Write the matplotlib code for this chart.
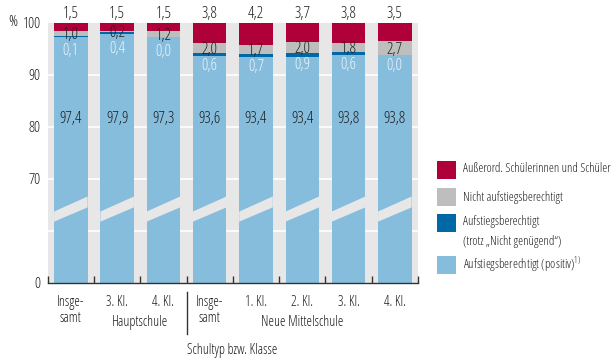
import numpy as np
import matplotlib
matplotlib.use("Agg")
import matplotlib.pyplot as plt
from matplotlib.patches import Polygon, Rectangle

# ---------------- data ----------------
categories = ["Insge-\nsamt", "3. Kl.", "4. Kl.", "Insge-\nsamt", "1. Kl.", "2. Kl.", "3. Kl.", "4. Kl."]
positiv = np.array([97.4, 97.9, 97.3, 93.6, 93.4, 93.4, 93.8, 93.8])
trotz = np.array([0.1, 0.4, 0.0, 0.6, 0.7, 0.9, 0.6, 0.0])
nicht = np.array([1.0, 0.2, 1.2, 2.0, 1.7, 2.0, 1.8, 2.7])
ausserord = np.array([1.5, 1.5, 1.5, 3.8, 4.2, 3.7, 3.8, 3.5])
groups = ["Hauptschule", "Neue Mittelschule"]
legend_labels = ["Außerord. Schülerinnen und Schüler", "Nicht aufstiegsberechtigt",
                 "Aufstiegsberechtigt\n(trotz „Nicht genügend“)", "Aufstiegsberechtigt (positiv)$^{1)}$"]
yticks = [0, 70, 80, 90, 100]

# ---------------- style ----------------
plt.rcParams['font.family'] = ["Open Sans", "DejaVu Sans"]
plt.rcParams['font.stretch'] = "condensed"
plt.rcParams['font.weight'] = "normal"
plt.rcParams['mathtext.fontset'] = "custom"
plt.rcParams['mathtext.rm'] = "Open Sans"

C_RED = "#b0003a"
C_GRAY = "#bebebe"
C_BLUE = "#0068a5"
C_LBLUE = "#86bcdc"
C_BG = "#e7e7e7"
C_TXT = "#1e1e1e"
FS = 10

def fwd(v):
    v = np.asarray(v, dtype=float)
    return np.where(v >= 70, v, 50 + v * 20.0 / 70.0)

def inv(p):
    p = np.asarray(p, dtype=float)
    return np.where(p >= 70, p, (p - 50) * 70.0 / 20.0)

fig = plt.figure(figsize=(6.16, 3.6), dpi=100)
ax = fig.add_axes([47.7 / 616, (360 - 282.7) / 360, (418 - 47.7) / 616, (282.7 - 23) / 360])
ax.set_facecolor(C_BG)
ax.set_yscale('function', functions=(fwd, inv))
ax.set_ylim(0, 100)
x = np.arange(len(categories))
ax.set_xlim(-0.5, len(categories) - 0.5)
w = 0.725

# grid
for g in [70, 80, 90, 35]:
    ax.axhline(g, color="white", lw=1.2, zorder=0.5)

b1 = positiv
b2 = b1 + trotz
b3 = b2 + nicht
ax.bar(x, positiv, w, color=C_LBLUE, zorder=2)
ax.bar(x, trotz, w, bottom=b1, color=C_BLUE, zorder=2)
ax.bar(x, nicht, w, bottom=b2, color=C_GRAY, zorder=2)
ax.bar(x, ausserord, w, bottom=b3, color=C_RED, zorder=2)

# break bands
ta = ax.get_xaxis_transform()
for xi in x:
    poly = Polygon([(xi - w / 2, 0.235), (xi + w / 2, 0.29), (xi + w / 2, 0.332), (xi - w / 2, 0.274)],
                   closed=True, transform=ta, facecolor=C_BG, edgecolor="none", zorder=3)
    ax.add_patch(poly)

fmt = lambda v: f"{v:.1f}".replace(".", ",")
VS = 11.5
for i, xi in enumerate(x):
    ax.text(xi, 81.5, fmt(positiv[i]), ha="center", va="center", fontsize=VS, color=C_TXT, zorder=4)
    gy = b2[i] + nicht[i] / 2 - 0.4
    ax.text(xi, gy, fmt(nicht[i]), ha="center", va="center", fontsize=VS, color=C_TXT, zorder=4)
    ax.text(xi, gy - 3.0, fmt(trotz[i]), ha="center", va="center", fontsize=VS, color="#eef6fb", zorder=4)
    ax.text(xi, 1.035, fmt(ausserord[i]), ha="center", va="center", fontsize=VS, color=C_TXT,
            transform=ta, clip_on=False)

# axes styling
for s in ["left", "right", "top"]:
    ax.spines[s].set_visible(False)
ax.spines["bottom"].set_color("#333333")
ax.spines["bottom"].set_linewidth(1)
ax.set_yticks(yticks)
ax.set_yticklabels([str(t) for t in yticks])
ax.yaxis.set_minor_locator(matplotlib.ticker.NullLocator())
ax.tick_params(axis="y", length=0, pad=5, labelsize=FS + 1, labelcolor=C_TXT)
ax.set_xticks(x)
ax.set_xticklabels(categories)
ax.tick_params(axis="x", length=0, pad=9, labelsize=FS, labelcolor=C_TXT)
ax.set_xticks(np.arange(-0.5, len(categories), 1.0), minor=True)
ax.tick_params(axis="x", which="minor", direction="in", length=5, width=1, color="#333333")
for lab in ax.get_xticklabels():
    lab.set_linespacing(1.1)

fig.text(13 / 616, (360 - 23) / 360, "%", ha="center", va="center", fontsize=FS + 1, color=C_TXT)

# group labels
ax.text(1.5, -0.152, groups[0], ha="center", va="center", fontsize=FS, color=C_TXT, transform=ta, clip_on=False)
ax.text(5.0, -0.152, groups[1], ha="center", va="center", fontsize=FS, color=C_TXT, transform=ta, clip_on=False)
ax.plot([2.5, 2.5], [-0.036, -0.198], color="#333333", lw=1, transform=ta, clip_on=False)
fig.text(232 / 616, (360 - 350) / 360, "Schultyp bzw. Klasse", ha="center", va="center", fontsize=FS, color=C_TXT)

# legend (manual)
leg_colors = [C_RED, C_GRAY, C_BLUE, C_LBLUE]
sq_top = [161, 188, 214, 256]
txt_y = [169, 197, 231, 265]
for c, t, ty, lab in zip(leg_colors, sq_top, txt_y, legend_labels):
    fig.add_artist(Rectangle((437 / 616, (360 - t - 18) / 360), 19 / 616, 18 / 360,
                             transform=fig.transFigure, facecolor=c, edgecolor="none"))
    fig.text(463 / 616, (360 - ty) / 360, lab, ha="left", va="center", fontsize=9.0,
             color=C_TXT, linespacing=1.7)

fig.savefig("out.png", dpi=100, facecolor="white")
